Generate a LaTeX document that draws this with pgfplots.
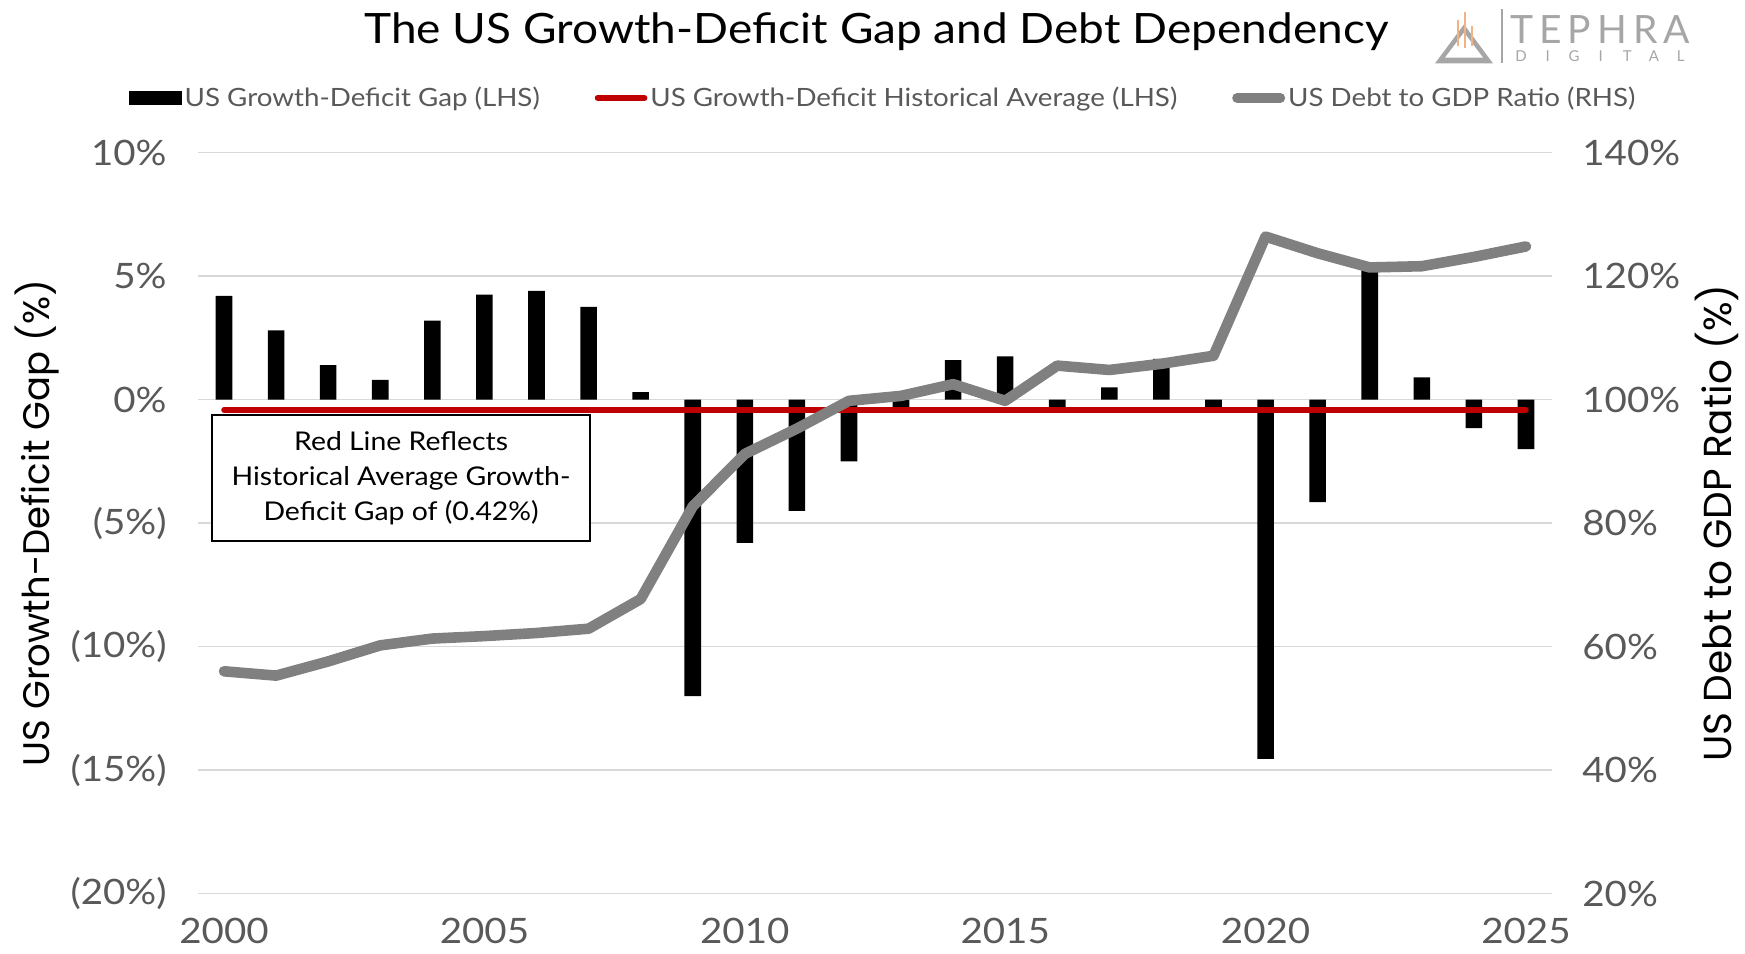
\documentclass[border=0pt]{standalone}
\usepackage{fontspec}
\setmainfont[FakeStretch=1.1]{Lato}
\newfontfamily\gothic{Poppins}
\newfontfamily\logofont{Lato}
\usepackage{pgfplots}
\pgfplotsset{compat=1.18}
\definecolor{gridgray}{HTML}{D9D9D9}
\definecolor{ticktext}{HTML}{595959}
\definecolor{avgred}{HTML}{C00000}
\definecolor{debtgray}{HTML}{808080}
\definecolor{logogray}{HTML}{A6A6A6}
\definecolor{logoorange}{HTML}{F4B183}

\pgfplotsset{
  dualaxis/.style={
    scale only axis, width=677pt, height=370.5pt,
    xmin=1999.5, xmax=2025.5,
    axis line style={draw=none},
    major tick length=0pt,
    ticklabel style={font=\fontsize{17.5}{20}\selectfont, text=ticktext, inner sep=0pt},
  }
}

\begin{document}
\begin{tikzpicture}
\path[use as bounding box] (-99pt,-29.7pt) rectangle (773.5pt,446.8pt);

% left axis: growth-deficit gap
\begin{axis}[dualaxis,
  ymin=-20, ymax=10,
  ytick={-20,-15,...,10},
  yticklabels={(20\%),(15\%),(10\%),(5\%),0\%,5\%,10\%},
  xtick={2000,2005,2010,2015,2020,2025},
  xticklabels={2000,2005,2010,2015,2020,2025},
  yticklabel style={anchor=east, xshift=-15.5pt},
  xticklabel style={anchor=north, yshift=-12pt},
  ymajorgrids, grid style={gridgray, line width=0.75pt},
  ylabel={US Growth-Deficit Gap (\%)},
  every axis y label/.style={at={(axis description cs:-0.119,0.5)}, rotate=90, anchor=center,
    font=\gothic\fontsize{18.5}{21}\selectfont},
]
\addplot[ybar, bar width=8.3pt, fill=black, draw=none] coordinates {
  (2000,4.2) (2001,2.8) (2002,1.4) (2003,0.8) (2004,3.2) (2005,4.25)
  (2006,4.4) (2007,3.75) (2008,0.3) (2009,-12.0) (2010,-5.8) (2011,-4.5)
  (2012,-2.5) (2013,-0.3) (2014,1.6) (2015,1.75) (2016,-0.3) (2017,0.5)
  (2018,1.65) (2019,-0.3) (2020,-14.55) (2021,-4.15) (2022,5.3) (2023,0.9)
  (2024,-1.15) (2025,-2.0)};
\addplot[avgred, line width=2.8pt, line cap=round] coordinates {(2000,-0.42) (2025,-0.42)};
\node[draw=black, line width=0.75pt, fill=white, minimum width=189pt, minimum height=63pt,
  align=center, font=\fontsize{12.9}{17.5}\selectfont]
  at (axis cs:2003.4,-3.18) {Red Line Reflects\\Historical Average Growth-\\Deficit Gap of (0.42\%)};
\end{axis}

% right axis: debt to GDP
\begin{axis}[dualaxis,
  ymin=20, ymax=140,
  axis x line=none, axis y line*=right,
  ytick={20,40,...,140},
  yticklabels={20\%,40\%,60\%,80\%,100\%,120\%,140\%},
  yticklabel style={anchor=west, xshift=15pt},
  ylabel={US Debt to GDP Ratio (\%)},
  every axis y label/.style={at={(axis description cs:1.1219,0.5)}, rotate=90, anchor=center,
    font=\gothic\fontsize{19.5}{22}\selectfont},
  legend columns=3,
  legend style={at={(axis description cs:0.5064,1.0737)}, anchor=center, draw=none, fill=none,
    font=\fontsize{12.6}{14}\selectfont, text=ticktext,
    /tikz/every even column/.append style={column sep=26pt},
    nodes={inner sep=1.5pt}},
  legend cell align=left,
]
\addlegendimage{legend image code/.code={\fill[black] (0pt,-3.3pt) rectangle (26pt,3.3pt);}}
\addlegendentry{US Growth-Deficit Gap (LHS)}
\addlegendimage{legend image code/.code={\draw[avgred, line width=2.8pt, line cap=round] (1.5pt,0pt) -- (25pt,0pt);}}
\addlegendentry{US Growth-Deficit Historical Average (LHS)}
\addplot[debtgray, line width=5.3pt, line join=round, line cap=round,
  legend image code/.code={\draw[debtgray, line width=5pt, line cap=round] (2.5pt,0pt) -- (24pt,0pt);}]
  coordinates {
  (2000,56.0) (2001,55.3) (2002,57.6) (2003,60.2) (2004,61.3) (2005,61.7)
  (2006,62.2) (2007,62.9) (2008,67.7) (2009,82.7) (2010,91.2) (2011,95.3)
  (2012,99.8) (2013,100.6) (2014,102.5) (2015,99.8) (2016,105.5) (2017,104.8)
  (2018,105.8) (2019,107.1) (2020,126.4) (2021,123.7) (2022,121.4) (2023,121.6)
  (2024,123.1) (2025,124.8)};
\addlegendentry{US Debt to GDP Ratio (RHS)}
\end{axis}

% title
\node[font=\fontsize{20.9}{25}\selectfont, anchor=center] at (339.2pt,431pt)
  {The US Growth-Deficit Gap and Debt Dependency};

% logo
\fill[logogray] (618.5pt,415.1pt) -- (647.5pt,415.1pt) -- (633pt,434.6pt) -- cycle;
\fill[white] (623.5pt,418pt) -- (642.5pt,418pt) -- (633pt,430.5pt) -- cycle;
\draw[logoorange, line width=1.2pt] (630pt,424pt) -- (630pt,437pt);
\draw[logoorange, line width=1.2pt] (633.5pt,423pt) -- (633.5pt,441pt);
\draw[logoorange, line width=1.2pt] (637pt,424pt) -- (637pt,434pt);
\draw[logogray, line width=0.6pt] (652pt,415.3pt) -- (652pt,442.3pt);
\node[anchor=base west, inner sep=0pt, text=logogray, font=\logofont\fontsize{19.5}{22}\selectfont]
  at (656pt,424.8pt) {T\hspace{3pt}E\hspace{3pt}P\hspace{3pt}H\hspace{3pt}R\hspace{3pt}A};
\foreach \l [count=\i from 0] in {D,I,G,I,T,A,L}
  \node[anchor=base, inner sep=0pt, text=logogray, font=\logofont\fontsize{7.5}{9}\selectfont]
    at (661.5pt+\i*13.3pt,415.8pt) {\l};
\end{tikzpicture}
\end{document}
